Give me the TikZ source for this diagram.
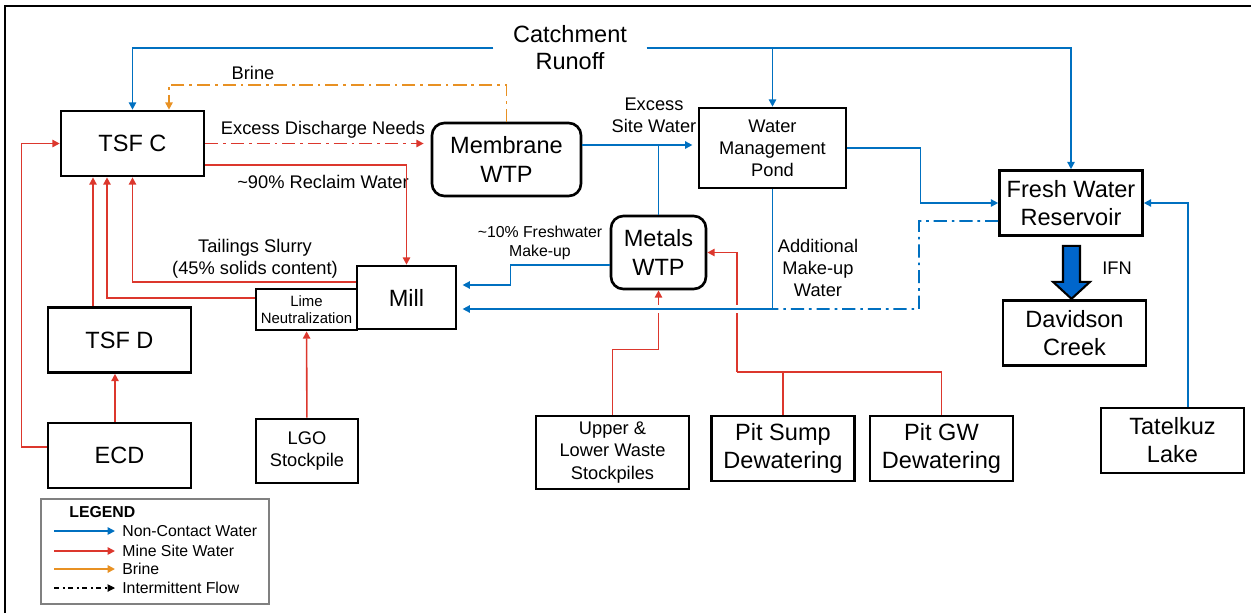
\documentclass[tikz,border=0pt]{standalone}
\usepackage{fontspec}
\setmainfont{Liberation Sans}
\usetikzlibrary{arrows.meta}

\definecolor{ncblue}{RGB}{0,112,192}
\definecolor{msred}{RGB}{220,55,45}
\definecolor{brineorange}{RGB}{232,145,35}
\definecolor{ifnblue}{RGB}{0,102,204}

\tikzstyle{box} = [draw=black, line width=1.5pt, rectangle, align=center,
    inner sep=1pt, font=\fontsize{13.4}{16}\selectfont]
\tikzstyle{bigbox} = [box, minimum width=2.86cm, minimum height=1.3cm]
\tikzstyle{wtpbox} = [box, rounded corners=7pt]
\tikzstyle{midtext} = [font=\fontsize{10.4}{12.6}\selectfont]
\tikzstyle{lbl} = [align=center, inner sep=0pt, font=\fontsize{10.4}{12.5}\selectfont]
\tikzstyle{legtext} = [anchor=west, inner sep=0pt, font=\fontsize{9}{11}\selectfont]
\tikzstyle{flow} = [line width=0.9pt, -{Triangle[length=4.2pt,width=4.2pt]}]
\tikzstyle{ncw} = [flow, ncblue]
\tikzstyle{msw} = [flow, msred]
\tikzstyle{brine} = [flow, brineorange]
\tikzstyle{intermittent} = [line width=1pt, dash pattern=on 7.5pt off 2.8pt on 1.5pt off 2.8pt]
\tikzstyle{gapline} = [white, line width=5pt, shorten <=3pt]
\tikzstyle{ifnarrow} = [draw=black, line width=1.2pt, fill=ifnblue]

\begin{document}
\begin{tikzpicture}[x=0.02cm, y=-0.02cm]
\useasboundingbox (0,0) rectangle (1251,613);
\draw[line width=1.2pt] (5,613) -- (5,6) -- (1251,6);

\node[lbl, font=\fontsize{13.4}{15.3}\selectfont, inner xsep=11pt] (catch) at (570,48) {Catchment\\Runoff};

\node[bigbox] (tsfc) at (132.5,143.5) {TSF C};
\node[bigbox] (tsfd) at (119.5,340) {TSF D};
\node[bigbox] (ecd) at (119.5,455.5) {ECD};
\node[box, minimum width=1.98cm, minimum height=1.26cm] (mill) at (406.5,297.5) {Mill};
\node[box, minimum width=2.02cm, minimum height=0.82cm, font=\fontsize{8.5}{10}\selectfont] (lime) at (306.5,309.5) {Lime\\Neutralization};
\node[box, midtext, minimum width=2.04cm, minimum height=1.28cm] (lgo) at (307,451) {LGO\\Stockpile};
\node[wtpbox, minimum width=2.98cm, minimum height=1.46cm] (membrane) at (506.5,159.5) {Membrane\\WTP};
\node[box, midtext, minimum width=2.94cm, minimum height=1.6cm] (pond) at (772.5,148) {Water\\Management\\Pond};
\node[wtpbox, minimum width=1.9cm, minimum height=1.46cm] (metals) at (658.5,252.5) {Metals\\WTP};
\node[bigbox] (reservoir) at (1071,203) {Fresh Water\\Reservoir};
\node[bigbox] (davidson) at (1074.5,333) {Davidson\\Creek};
\node[bigbox] (tatelkuz) at (1172.5,440.5) {Tatelkuz\\Lake};
\node[box, midtext, minimum width=3.06cm, minimum height=1.46cm] (waste) at (612.5,452.5) {Upper \&\\Lower Waste\\Stockpiles};
\node[bigbox] (sump) at (783,448.5) {Pit Sump\\Dewatering};
\node[bigbox] (gw) at (941.5,448.5) {Pit GW\\Dewatering};

\node[lbl] (brinelbl) at (253,73) {Brine};
\node[lbl] (excess) at (323,130) {Excess Discharge Needs};
\node[lbl] (reclaim) at (323,182) {\textasciitilde90\% Reclaim Water};
\node[lbl] (slurry) at (255,258.5) {Tailings Slurry\\(45\% solids content)};
\node[lbl] (sitewater) at (654,115.5) {Excess\\Site Water};
\node[lbl, font=\fontsize{9}{10.8}\selectfont] (makeup) at (540,242.5) {\textasciitilde10\% Freshwater\\Make-up};
\node[lbl] (additional) at (818,268) {Additional\\Make-up\\Water};
\node[lbl] (ifnlbl) at (1117,268) {IFN};

% non-contact water
\draw[ncw] (catch.west) -| (tsfc);
\draw[ncw] (catch.east) -| (reservoir);
\draw[ncw] (catch.east -| pond.north) -- (pond.north);
\coordinate (memout) at ([yshift=0.29cm]membrane.east);
\draw[ncw, shorten >=3pt] (memout) -- (memout -| pond.west);
\draw[ncw, -] (metals.north) -- (metals.north |- memout);
\coordinate (metout) at ([yshift=-0.25cm]metals.west);
\draw[ncw, shorten >=3pt] (metout) -- ++(-99,0) |- ([yshift=0.25cm]mill.east);
\draw[ncw] (pond.east) -- ++(73,0) |- (reservoir.west);
\draw[ncw] ([xshift=0.31cm]tatelkuz.north) |- (reservoir.east);

% mine site water
\draw[msw, intermittent, shorten >=4pt] (tsfc.east) -- (tsfc.east -| membrane.west);
\draw[msw] ([yshift=-0.43cm]tsfc.east) -| (mill.north);
\draw[msw] ([yshift=0.31cm]mill.west) -| (tsfc.south);
\draw[msw] ([yshift=0.23cm]lime.west) -| ([xshift=-0.51cm]tsfc.south);
\coordinate (tsfdin) at ([xshift=-0.79cm]tsfc.south);
\draw[msw] (tsfdin |- tsfd.north) -- (tsfdin);
\draw[msw] ([yshift=0.17cm]ecd.west) -- ++(-25,0) |- (tsfc.west);
\draw[msw] ([xshift=-0.09cm]ecd.north) -- ([xshift=-0.09cm]tsfd.south);
\draw[msw] (lgo) -- (lime);
\draw[msw] (waste.north) -- ++(0,-65) -| (metals.south);
\coordinate (pit) at (737,372);
\draw[msw] (pit) |- (metals.east);
\draw[msw, -] (gw.north) |- (pit);
\draw[msw, -] (sump.north) -- (sump.north |- pit);

% brine
\draw[brine, intermittent] (membrane.north) -- ++(0,-37) -| ([xshift=0.73cm]tsfc.north);

% make-up water to mill
\coordinate (millin) at ([yshift=-0.23cm]mill.east);
\coordinate (mkup) at (millin -| pond.south);
\coordinate (dd) at (919,309);
\draw[gapline] (millin) -- (mkup);
\draw[ncw, shorten >=3pt] (pond.south) |- (millin);
\draw[ncw, intermittent, -] ([yshift=-0.36cm]reservoir.west) -| (dd) -- (mkup);

% IFN
\draw[ifnarrow] ([xshift=-0.16cm,yshift=-0.18cm]reservoir.south) -- ++(17,0) -- ++(0,36) -- ++(10,0)
    -- ++(-18.5,17) -- ++(-18.5,-17) -- ++(10,0) -- cycle;

% legend
\draw[gray, line width=0.8pt] (41,499) rectangle (269,604);
\node[anchor=west, inner sep=0pt, font=\fontsize{9}{11}\selectfont\bfseries] (legend) at (69,512) {LEGEND};
\node[legtext] (l1) at (122,531) {Non-Contact Water};
\node[legtext] (l2) at (122,551) {Mine Site Water};
\node[legtext] (l3) at (122,569) {Brine};
\node[legtext] (l4) at (122,588) {Intermittent Flow};
\draw[ncw] ([xshift=-1.36cm]l1.west) -- ([xshift=-0.14cm]l1.west);
\draw[msw] ([xshift=-1.36cm]l2.west) -- ([xshift=-0.14cm]l2.west);
\draw[brine, line width=1.5pt] ([xshift=-1.36cm]l3.west) -- ([xshift=-0.14cm]l3.west);
\draw[flow, black, line width=0.6pt, dash pattern=on 3pt off 2pt on 1pt off 2pt] ([xshift=-1.36cm]l4.west) -- ([xshift=-0.14cm]l4.west);
\end{tikzpicture}
\end{document}
